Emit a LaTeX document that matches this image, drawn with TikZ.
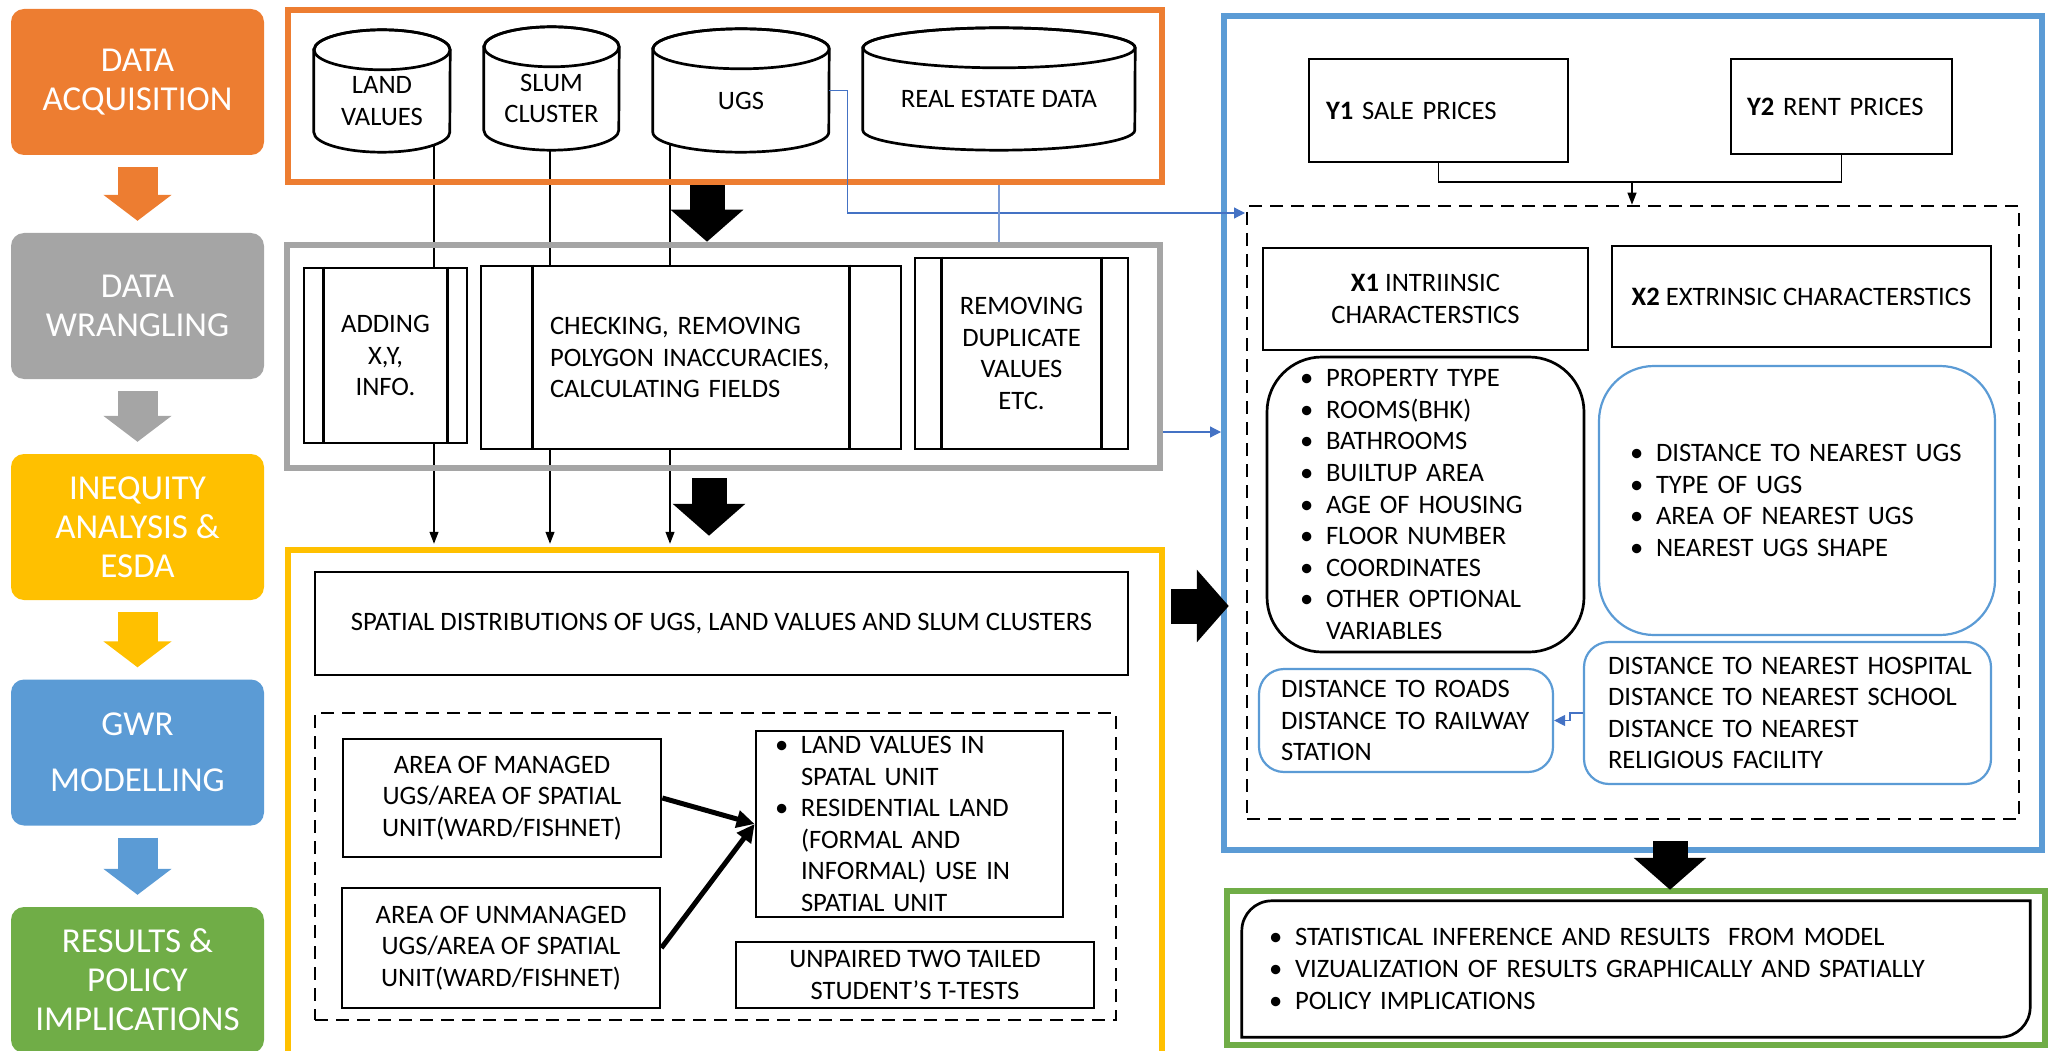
\documentclass[tikz,border=0pt]{standalone}
\usepackage{fontspec}
\setmainfont{Carlito}
\usetikzlibrary{arrows.meta,positioning,calc,backgrounds}
\definecolor{acqorange}{HTML}{ED7D31}
\definecolor{wranggray}{HTML}{A5A5A5}
\definecolor{ineqyellow}{HTML}{FFC000}
\definecolor{gwrblue}{HTML}{5B9BD5}
\definecolor{resgreen}{HTML}{70AD47}
\definecolor{linkblue}{HTML}{4472C4}
\newcommand{\stagefont}{\fontsize{35}{39}\selectfont}
\newcommand{\bodyfont}{\fontsize{26.6}{31.6}\selectfont}
\newcommand{\bitem}[1]{\mbox{\makebox[26pt][l]{\textbullet}#1}}
\newcommand{\bcont}[1]{\mbox{\hspace*{26pt}#1}}

\tikzset{
  stage/.style={fill=#1, rounded corners=13pt, text=white, font=\stagefont, align=center,
    minimum width=253pt, minimum height=146pt, inner sep=0pt},
  stagearrow/.style={draw=#1, line width=40pt, -{Triangle[length=26pt 0 0, width=67pt 0 0]},
    shorten <=12pt, shorten >=12pt},
  stageframe/.style={draw=#1, line width=6.5pt, inner sep=0pt},
  dashbox/.style={draw, line width=2.7pt, dash pattern=on 13pt off 8pt, inner sep=0pt},
  dbase/.style={inner sep=0pt},
  dbtext/.style={font=\bodyfont, align=center, inner sep=0pt},
  procbox/.style={draw, line width=2.7pt, fill=white, font=\bodyfont, inner sep=0pt},
  plainbox/.style={draw, line width=2.7pt, fill=white, font=\bodyfont, inner sep=0pt},
  bluebox/.style={draw=gwrblue, line width=2.2pt, fill=white, font=\bodyfont, align=left, inner sep=0pt},
  bigarrow/.style={line width=35pt, -{Triangle[length=32pt 0 0, width=71pt 0 0]}},
  feedline/.style={line width=1.3pt},
  feed/.style={line width=1.3pt, -{Triangle[length=12pt 0 0, width=9pt 0 0]}},
  thickfeed/.style={line width=5pt, -{Triangle[length=18pt 0 0, width=17pt 0 0]}},
  bluelink/.style={draw=linkblue, line width=1.2pt, -{Triangle[length=11pt 0 0, width=11pt 0 0]}},
  bluewire/.style={draw=linkblue!70, line width=1.2pt}
}

\begin{document}
\begin{tikzpicture}[x=1pt, y=-1pt]
\useasboundingbox (0,0) rectangle (2051,1051);

% stages on the left
\node[stage=acqorange] (acq) at (137.5,82) {DATA\\ACQUISITION};
\node[stage=wranggray] (wrang) at (137.5,306) {DATA\\WRANGLING};
\node[stage=ineqyellow] (ineq) at (137.5,527) {INEQUITY\\ANALYSIS \&\\ESDA};
\node[stage=gwrblue] (gwr) at (137.5,752.5) {GWR\\[17pt]MODELLING};
\node[stage=resgreen] (res) at (137.5,980) {RESULTS \&\\POLICY\\IMPLICATIONS};
\draw[stagearrow=acqorange] (acq) -- (wrang);
\draw[stagearrow=wranggray] (wrang) -- (ineq);
\draw[stagearrow=ineqyellow] (ineq) -- (gwr);
\draw[stagearrow=gwrblue] (gwr) -- (res);

% frames
\node[stageframe=acqorange, minimum width=874pt, minimum height=172pt] (acqframe) at (725,96) {};
\node[stageframe=wranggray, minimum width=873pt, minimum height=223pt] (wrangframe) at (723.5,356.5) {};
\node[stageframe=ineqyellow, minimum width=874pt, minimum height=515pt] (ineqframe) at (725,807.5) {};
\node[stageframe=gwrblue, minimum width=818pt, minimum height=834pt] (gwrframe) at (1633,433) {};
\node[stageframe=resgreen, minimum width=818pt, minimum height=154pt] (resframe) at (1636,968) {};
\node[dashbox, minimum width=801pt, minimum height=307pt] (ineqdash) at (715.5,866.5) {};
\node[dashbox, minimum width=772pt, minimum height=613pt] (xdash) at (1633,512.5) {};

% data stores
\node[dbase, minimum width=136pt, minimum height=122pt] (lv) at (382,91) {};
\node[dbase, minimum width=135pt, minimum height=123pt] (sc) at (551.5,88.5) {};
\node[dbase, minimum width=176pt, minimum height=123pt] (ugs) at (741,90.5) {};
\node[dbase, minimum width=272pt, minimum height=122pt] (red) at (999,89) {};
\foreach \n/\rx in {lv/68,sc/67.5,ugs/88,red/136}{
  \filldraw[fill=white, line width=2.7pt] ($(\n.north west)+(0,20)$) -- ($(\n.south west)+(0,-20)$)
    arc[start angle=180, end angle=0, x radius=\rx, y radius=20] -- ($(\n.north east)+(0,20)$)
    arc[start angle=0, end angle=-180, x radius=\rx, y radius=20] -- cycle;
  \draw[line width=2.7pt] ($(\n.north)+(0,20)$) ellipse[x radius=\rx, y radius=20];
}
\node[dbtext] (lvt) at ([yshift=-10pt]lv.center) {LAND\\VALUES};
\node[dbtext] (sct) at ([yshift=-10pt]sc.center) {SLUM\\CLUSTER};
\node[dbtext] (ugst) at ([yshift=-10pt]ugs.center) {UGS};
\node[dbtext] (redt) at ([yshift=-10pt]red.center) {REAL ESTATE DATA};

% wrangling steps
\node[procbox, minimum width=163pt, minimum height=175pt, align=center] (add) at (385.5,355.5) {ADDING\\X,Y,\\INFO.};
\node[procbox, minimum width=420pt, minimum height=183pt, align=left, text width=282pt, inner xsep=69pt] (chk) at (691,357.5)
  {\mbox{CHECKING, REMOVING}\\\mbox{POLYGON INACCURACIES,}\\\mbox{CALCULATING FIELDS}};
\node[procbox, minimum width=213pt, minimum height=191pt, align=center] (rem) at (1021.5,353.5) {REMOVING\\DUPLICATE\\VALUES\\ETC.};
\foreach \n/\d in {add/21,chk/53,rem/28}{
  \draw[line width=2.7pt] ($(\n.north west)+(\d,0)$) -- ($(\n.south west)+(\d,0)$);
  \draw[line width=2.7pt] ($(\n.north east)+(-\d,0)$) -- ($(\n.south east)+(-\d,0)$);
}

% inequity analysis
\node[plainbox, minimum width=813pt, minimum height=103pt] (spat) at (721.5,623.5) {SPATIAL DISTRIBUTIONS OF UGS, LAND VALUES AND SLUM CLUSTERS};
\node[plainbox, minimum width=318pt, minimum height=118pt, align=center] (man) at (502,798) {AREA OF MANAGED\\UGS/AREA OF SPATIAL\\UNIT(WARD/FISHNET)};
\node[plainbox, minimum width=318pt, minimum height=120pt, align=center] (unman) at (501,948) {AREA OF UNMANAGED\\UGS/AREA OF SPATIAL\\UNIT(WARD/FISHNET)};
\node[plainbox, minimum width=307pt, minimum height=186pt, align=left, text width=269pt, inner xsep=19pt] (landuse) at (909.5,824)
  {\bitem{LAND VALUES IN}\\\bcont{SPATAL UNIT}\\\bitem{RESIDENTIAL LAND}\\\bcont{(FORMAL AND}\\\bcont{INFORMAL) USE IN}\\\bcont{SPATIAL UNIT}};
\node[plainbox, minimum width=358pt, minimum height=66pt, align=center] (ttest) at (915,975) {UNPAIRED TWO TAILED\\STUDENT’S T-TESTS};
\draw[thickfeed] (man.east) -- (landuse.west);
\draw[thickfeed] (unman.east) -- (landuse.west);

% GWR model
\node[plainbox, minimum width=259pt, minimum height=103pt, align=left, text width=225pt, inner xsep=17pt] (y1) at (1438.5,110.5) {\textbf{Y1} SALE PRICES};
\node[plainbox, minimum width=221pt, minimum height=95pt, align=left, text width=189pt, inner xsep=16pt] (y2) at (1841.5,106.5) {\textbf{Y2} RENT PRICES};
\node[plainbox, minimum width=325pt, minimum height=102pt, align=center] (x1) at (1425.5,299) {\textbf{X1} INTRIINSIC\\CHARACTERSTICS};
\node[plainbox, minimum width=379pt, minimum height=101pt] (x2) at (1801.5,296.5) {\textbf{X2} EXTRINSIC CHARACTERSTICS};
\node[plainbox, rounded corners=55pt, minimum width=317pt, minimum height=295pt, align=left, text width=251pt, inner xsep=33pt] (intr) at (1425.5,504.5)
  {\bitem{PROPERTY TYPE}\\\bitem{ROOMS(BHK)}\\\bitem{BATHROOMS}\\\bitem{BUILTUP AREA}\\\bitem{AGE OF HOUSING}\\\bitem{FLOOR NUMBER}\\\bitem{COORDINATES}\\\bitem{OTHER OPTIONAL}\\\bcont{VARIABLES}};
\node[bluebox, rounded corners=55pt, minimum width=396pt, minimum height=269pt, text width=334pt, inner xsep=31pt] (extr) at (1797,500.5)
  {\bitem{DISTANCE TO NEAREST UGS}\\\bitem{TYPE OF UGS}\\\bitem{AREA OF NEAREST UGS}\\\bitem{NEAREST UGS SHAPE}};
\node[bluebox, rounded corners=25pt, minimum width=407pt, minimum height=142pt, text width=359pt, inner xsep=24pt] (hosp) at (1787.5,713)
  {\mbox{DISTANCE TO NEAREST HOSPITAL}\\\mbox{DISTANCE TO NEAREST SCHOOL}\\\mbox{DISTANCE TO NEAREST}\\\mbox{RELIGIOUS FACILITY}};
\node[bluebox, rounded corners=25pt, minimum width=294pt, minimum height=103pt, text width=250pt, inner xsep=22pt] (roads) at (1406,720.5)
  {\mbox{DISTANCE TO ROADS}\\\mbox{DISTANCE TO RAILWAY}\\\mbox{STATION}};
\coordinate (yjoin) at (1632,182);
\draw[feedline] (y1.south) |- (yjoin);
\draw[feedline] (y2.south) |- (yjoin);
\draw[feed] (yjoin) -- (yjoin |- xdash.north);
\draw[bluelink] (hosp.west) -- ++(-13,0) |- (roads.east);

% results
\node[font=\bodyfont, align=left, text width=734pt, inner xsep=27pt, inner ysep=0pt, minimum width=788pt, minimum height=136pt] (out) at (1636,969)
  {\bitem{STATISTICAL INFERENCE AND RESULTS \ FROM MODEL}\\\bitem{VIZUALIZATION OF RESULTS GRAPHICALLY AND SPATIALLY}\\\bitem{POLICY IMPLICATIONS}};
\draw[line width=2.7pt] (out.north east) -- ([xshift=30pt]out.north west) arc[start angle=270, end angle=180, radius=30]
  -- (out.south west) -- ([xshift=-30pt]out.south east) arc[start angle=90, end angle=0, radius=30] -- cycle;

% links between the stages
\coordinate (c1) at (434,0);
\coordinate (c2) at (550,0);
\coordinate (c3) at (670,0);
\begin{scope}[on background layer]
\draw[feedline] (lv.center -| c1) -- (add.center -| c1);
\draw[feed, shorten >=3pt] (add.center -| c1) -- (ineqframe.north -| c1);
\draw[feedline] (sc.center -| c2) -- (chk.center -| c2);
\draw[feed, shorten >=3pt] (chk.center -| c2) -- (ineqframe.north -| c2);
\draw[feedline] (ugs.center -| c3) -- (chk.center -| c3);
\draw[feed, shorten >=3pt] (chk.center -| c3) -- (ineqframe.north -| c3);
\end{scope}

\coordinate (ugsin) at (1245,213);
\coordinate (wrangin) at (1221,432);
\draw[bluelink] (ugs.east) -- ++(18,0) |- (ugsin);
\draw[bluewire] (acqframe.south -| red.center) -- (wrangframe.north -| red.center);
\draw[bluelink] (wrangframe.east |- wrangin) -- (wrangin);

\coordinate (b1) at (707,0);
\coordinate (b2) at (709,0);
\coordinate (b3) at (0,606);
\coordinate (b4) at (1670,0);
\draw[bigarrow] (acqframe.south -| b1) -- (wrangframe.north -| b1);
\draw[bigarrow, shorten <=7pt, shorten >=11pt] (wrangframe.south -| b2) -- (ineqframe.north -| b2);
\draw[bigarrow, shorten <=6pt, shorten >=-8pt] (ineqframe.east |- b3) -- (gwrframe.west |- b3);
\draw[bigarrow, shorten <=-12pt, shorten >=-2pt] (gwrframe.south -| b4) -- (resframe.north -| b4);
\end{tikzpicture}
\end{document}
